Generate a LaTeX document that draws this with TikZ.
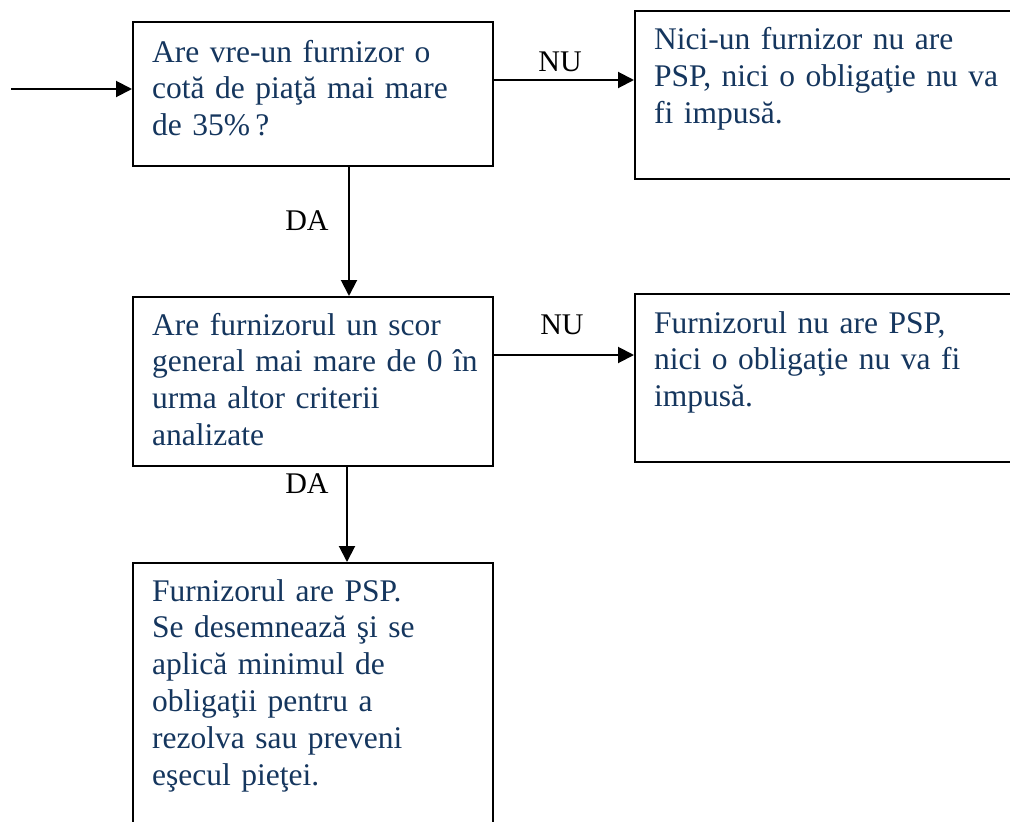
\documentclass[tikz,border=0pt]{standalone}
\usepackage{fontspec}
\setmainfont{Liberation Serif}
\usetikzlibrary{arrows.meta}
\definecolor{txtblue}{HTML}{15365E}
\newcommand{\myboxfont}{\fontsize{31.5}{36.8}\selectfont\spaceskip=7.5pt\relax}
\tikzset{
  boxnode/.style={draw=black, line width=2pt, rectangle, inner sep=0pt, anchor=north west},
  boxtext/.style={anchor=base west, inner sep=0pt, align=left, text width=420pt, text=txtblue, font=\myboxfont},
  lbl/.style={anchor=base, inner sep=0pt, text=black, font=\fontsize{30}{34}\selectfont},
  arr/.style={line width=2pt, -{Triangle[length=16pt,width=16pt]}}
}
\begin{document}
\begin{tikzpicture}[x=1pt,y=-1pt]
\useasboundingbox (0,0) rectangle (1010,822);
\clip (0,0) rectangle (1010,822);
\fill[white] (0,0) rectangle (1010,822);
% boxes
\node[boxnode, minimum width=360pt, minimum height=144pt] (b1) at (132,21) {};
\node[boxnode, minimum width=400pt, minimum height=168pt] (b2) at (634,10) {};
\node[boxnode, minimum width=360pt, minimum height=169pt] (b3) at (132,296) {};
\node[boxnode, minimum width=400pt, minimum height=168pt] (b4) at (634,293) {};
\node[boxnode, minimum width=360pt, minimum height=290pt] (b5) at (132,562) {};
% texts
\node[boxtext] (t1) at (152,62) {Are vre-un furnizor o\\cotă de piaţă mai mare\\de 35\%\,?};
\node[boxtext] (t2) at (654,49.5) {Nici-un furnizor nu are\\PSP, nici o obligaţie nu va\\fi impusă.};
\node[boxtext] (t3) at (152,335) {Are furnizorul un scor\\general mai mare de 0 în\\urma altor criterii\\analizate};
\node[boxtext] (t4) at (654,333) {Furnizorul nu are PSP,\\nici o obligaţie nu va fi\\impusă.};
\node[boxtext] (t5) at (152,601) {Furnizorul are PSP.\\Se desemnează şi se\\aplică minimul de\\obligaţii pentru a\\rezolva sau preveni\\eşecul pieţei.};
% connectors
\coordinate (in) at (11,89);
\draw[arr] (in) -- (in -| b1.west);
\coordinate (n1) at ([yshift=14pt]b1.east);
\draw[arr] (n1) -- (n1 -| b2.west);
\coordinate (d1) at ([xshift=36pt]b1.south);
\draw[arr] (d1) -- (d1 |- b3.north);
\coordinate (n2) at ([yshift=26.5pt]b3.east);
\draw[arr] (n2) -- (n2 -| b4.west);
\coordinate (d2) at ([xshift=34pt]b3.south);
\draw[arr] (d2) -- (d2 |- b5.north);
% labels
\node[lbl] (l1) at (560,71) {NU};
\node[lbl] (l2) at (562,334) {NU};
\node[lbl] (l3) at (307,230) {DA};
\node[lbl] (l4) at (307,493) {DA};
\end{tikzpicture}
\end{document}
